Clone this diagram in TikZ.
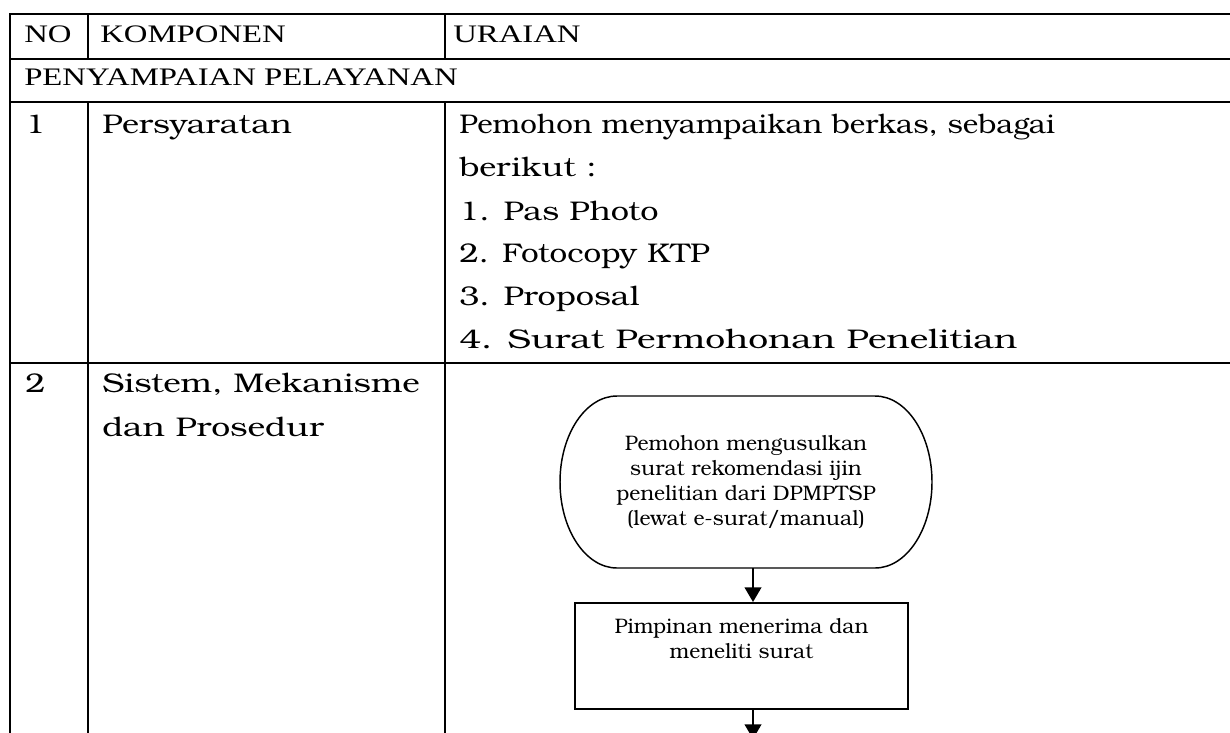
\documentclass[tikz,border=0pt]{standalone}
\usepackage{fontspec}
\usetikzlibrary{arrows.meta,calc}
\newfontfamily\hdfont[FakeStretch=1.3]{Liberation Serif}
\newfontfamily\bkfont{TeX Gyre Bonum}
\newfontfamily\bkwide[FakeStretch=1.2]{TeX Gyre Bonum}
% horizontal fit of a single line of cell text
\newcommand{\hfit}[2]{\scalebox{#1}[1]{#2}}
\begin{document}
\begin{tikzpicture}[x=0.75pt,y=-0.75pt,
  gridline/.style={line width=1.5pt},
  headtext/.style={anchor=base west, inner sep=0pt, font=\hdfont\fontsize{18.9}{22}\selectfont},
  celltext/.style={anchor=base west, inner sep=0pt, font=\bkwide\fontsize{20.25}{24}\selectfont},
  flowtext/.style={font=\bkfont\fontsize{15.75}{18.75}\selectfont, align=center, inner sep=0pt},
  termline/.style={line width=1.1pt},
  procbox/.style={draw, line width=1.3pt, inner sep=0pt, font=\bkfont\fontsize{15.75}{18.75}\selectfont},
  flowarrow/.style={line width=1.5pt, -{Triangle[length=11pt,width=12.5pt]}}]
\clip (0,0) rectangle (1230,732);
\fill[white] (0,0) rectangle (1230,732);

% table rules
\draw[gridline] (9.25,13.5) -- (1240,13.5);
\draw[gridline] (10,58.5) -- (1240,58.5);
\draw[gridline] (10,102) -- (1240,102);
\draw[gridline] (10,363) -- (1240,363);
\draw[gridline] (10,13.5) -- (10,740);
\draw[gridline] (88,13.5) -- (88,58.5);
\draw[gridline] (88,102) -- (88,740);
\draw[gridline] (445,13.5) -- (445,58.5);
\draw[gridline] (445,102) -- (445,740);

% header
\node[headtext] (hno) at (24,42) {NO};
\node[headtext] (hkomp) at (100,42) {KOMPONEN};
\node[headtext] (hurai) at (453,42) {URAIAN};
\node[headtext] (hsect) at (24,85) {PENYAMPAIAN PELAYANAN};

% row 1
\node[celltext] (n1) at (25,133) {1};
\node[celltext] (k1) at (102,133) {Persyaratan};
\node[celltext] (u1a) at (459,133) {\hfit{0.91}{Pemohon menyampaikan berkas, sebagai}};
\node[celltext] (u1b) at (459,176) {berikut :};
\node[celltext] (u1c) at (459,220) {1. Pas Photo};
\node[celltext] (u1d) at (459,262) {\hfit{0.97}{2. Fotocopy KTP}};
\node[celltext] (u1e) at (459,305) {3. Proposal};
\node[celltext] (u1f) at (459,348) {\hfit{1.09}{4. Surat Permohonan Penelitian}};

% row 2
\node[celltext] (n2) at (25,392) {2};
\node[celltext] (k2a) at (102,392) {\hfit{1.03}{Sistem, Mekanisme}};
\node[celltext] (k2b) at (102,436) {\hfit{1.04}{dan Prosedur}};

% flowchart: terminal
\node[flowtext, minimum width=279pt, minimum height=129pt] (start) at (746,482)
  {Pemohon mengusulkan\\surat rekomendasi ijin\\penelitian dari DPMPTSP\\(lewat e-surat/manual)};
\draw[termline] ($(start.center)+(-129,-86)$) -- ($(start.center)+(129,-86)$)
  arc[start angle=-90, end angle=90, x radius=57, y radius=86]
  -- ($(start.center)+(-129,86)$)
  arc[start angle=90, end angle=270, x radius=57, y radius=86] -- cycle;

% flowchart: process
\node[procbox, anchor=north] (check) at (741.5,602)
  {\parbox[t][79.5pt][t]{250pt}{\centering\vspace*{11.5pt}Pimpinan menerima dan\\meneliti surat}};

\coordinate (next) at (753,739);
\draw[flowarrow] ($(start.south)+(7,0)$) -- ($(check.north)+(11.5,0)$);
\draw[flowarrow] ($(check.south)+(11.5,0)$) -- (next);
\end{tikzpicture}
\end{document}
